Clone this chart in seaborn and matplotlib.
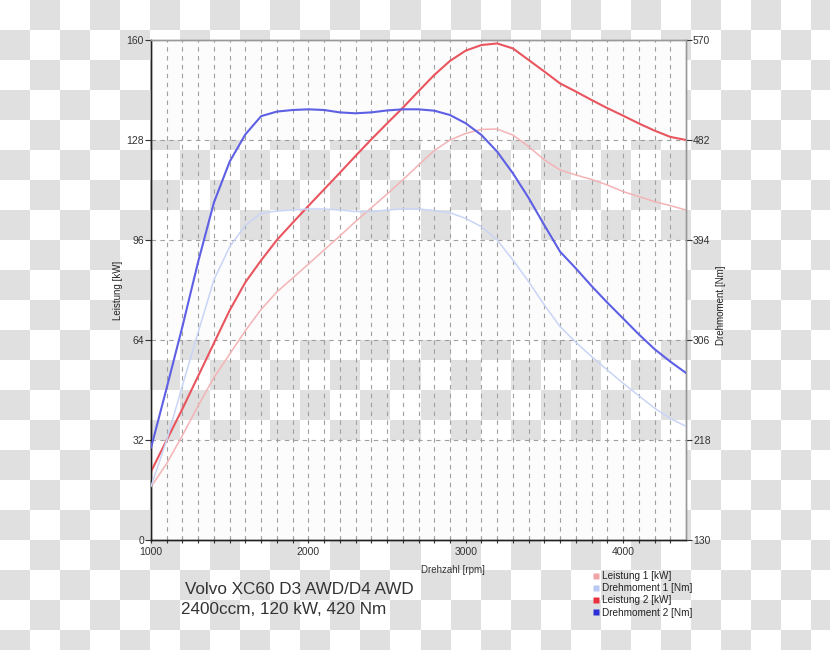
import numpy as np
import pandas as pd
import matplotlib
matplotlib.use("Agg")
import matplotlib.pyplot as plt
from matplotlib.lines import Line2D
import seaborn as sns

# ---- data ----
rpm = [1000, 1100, 1200, 1300, 1400, 1500, 1600, 1700, 1800, 1900, 2000, 2100, 2200,
       2300, 2400, 2500, 2600, 2700, 2800, 2900, 3000, 3100, 3200, 3300, 3400, 3500,
       3600, 3700, 3800, 3900, 4000, 4100, 4200, 4300, 4400]
leistung_1 = [17.0, 24.5, 33.5, 43.0, 52.0, 59.5, 67.0, 73.8, 79.4, 83.8, 88.3, 92.8, 97.3,
              101.9, 106.3, 110.7, 115.2, 120.0, 124.6, 128.0, 130.1, 131.4, 131.5, 129.6,
              125.9, 121.6, 118.4, 116.8, 115.4, 113.6, 111.5, 109.9, 108.3, 107.0, 105.6]
drehmoment_1 = [177, 218, 266, 313, 359, 388, 407, 417.5, 419.5, 420.4, 421.3, 421.3, 420.4,
                419, 419, 420.4, 421.3, 421.3, 420, 418, 413, 405.7, 394, 376.4, 357.3, 336.8,
                317.7, 304, 291.4, 279.6, 268, 257, 246, 237, 230]
leistung_2 = [21.9, 32.0, 42.0, 52.5, 63.0, 73.5, 82.5, 89.5, 96.0, 101.5, 106.9, 112.2,
              117.5, 122.9, 128.2, 133.3, 138.3, 143.6, 148.8, 153.3, 156.6, 158.4, 158.9,
              157.3, 153.6, 149.9, 146.1, 143.5, 140.8, 138.2, 135.8, 133.3, 131.0, 129.0, 128.0]
drehmoment_2 = [211, 264, 318, 375, 427, 463, 487, 503, 507, 508.4, 509, 508.4, 506.3,
                505.5, 506.3, 508, 509, 509, 507.8, 504, 496.7, 486.4, 471.7, 452.7, 431,
                407, 383.7, 369, 353.5, 338.9, 325, 311, 298, 287, 277]
left_ticks = [0, 32, 64, 96, 128, 160]
right_ticks = [130, 218, 306, 394, 482, 570]
x_ticks = [1000, 2000, 3000, 4000]
series_names = ["Leistung 1 [kW]", "Drehmoment 1 [Nm]", "Leistung 2 [kW]", "Drehmoment 2 [Nm]"]

line_colors = {"Leistung 1 [kW]": "#f4b3b5", "Drehmoment 1 [Nm]": "#c9d5f6",
               "Leistung 2 [kW]": "#e9555f", "Drehmoment 2 [Nm]": "#5d5fe4"}
marker_colors = {"Leistung 1 [kW]": "#f0a4a8", "Drehmoment 1 [Nm]": "#b9c9f4",
                 "Leistung 2 [kW]": "#e8303f", "Drehmoment 2 [Nm]": "#2c2fd6"}
line_widths = {"Leistung 1 [kW]": 1.1, "Drehmoment 1 [Nm]": 1.1,
               "Leistung 2 [kW]": 1.5, "Drehmoment 2 [Nm]": 1.5}

sns.set_theme(style="white")
plt.rcParams['font.family'] = ['Liberation Sans', 'DejaVu Sans']

W, H = 830, 650
fig = plt.figure(figsize=(W / 100, H / 100), dpi=100)

# checkerboard (transparency pattern) background
yy, xx = np.mgrid[0:H, 0:W]
checker = np.where(((xx // 30) + (yy // 30)) % 2 == 1, 0.878, 1.0)
bg = fig.add_axes([0, 0, 1, 1], zorder=-10)
bg.imshow(checker, cmap="gray", vmin=0, vmax=1, extent=[0, W, H, 0], aspect="auto",
          interpolation="nearest")
bg.set_axis_off()

left, right, top, bottom = 151, 686, 40, 540
ax = fig.add_axes([left / W, 1 - bottom / H, (right - left) / W, (bottom - top) / H])
ax.set_facecolor("none")
ax2 = ax.twinx()
ax2.set_facecolor("none")

# alternating white bands
for lo, hi in [(0, 32), (64, 96), (128, 160)]:
    ax.axhspan(lo, hi, color="#fcfcfc", zorder=0, lw=0)

# grid
for xv in range(1100, 4400, 100):
    ax.axvline(xv, color="#a0a0a0", lw=0.8, ls=(0, (4, 4)), zorder=1)
for yv in [32, 64, 96, 128]:
    ax.axhline(yv, color="#a0a0a0", lw=0.8, ls=(0, (4, 4)), zorder=1)

df_l = pd.DataFrame({"rpm": rpm, "Leistung 1 [kW]": leistung_1, "Leistung 2 [kW]": leistung_2})
df_d = pd.DataFrame({"rpm": rpm, "Drehmoment 1 [Nm]": drehmoment_1, "Drehmoment 2 [Nm]": drehmoment_2})

for name in ["Leistung 1 [kW]", "Leistung 2 [kW]"]:
    sns.lineplot(data=df_l, x="rpm", y=name, ax=ax, color=line_colors[name],
                 lw=line_widths[name], legend=False, zorder=3)
for name in ["Drehmoment 1 [Nm]", "Drehmoment 2 [Nm]"]:
    sns.lineplot(data=df_d, x="rpm", y=name, ax=ax2, color=line_colors[name],
                 lw=line_widths[name], legend=False, zorder=3)

ax.set_xlim(1000, 4400)
ax.set_ylim(0, 160)
ax2.set_ylim(130, 570)
ax.set_xticks(x_ticks)
ax.set_xticks(range(1100, 4400, 100), minor=True)
ax.set_yticks(left_ticks)
ax2.set_yticks(right_ticks)

tick_kw = dict(labelsize=7.5, labelcolor="#333333", colors="#333333", length=4, width=0.8)
ax.tick_params(axis="y", which="major", direction="out", pad=1, **tick_kw)
ax.tick_params(axis="x", which="major", direction="inout", pad=3, **tick_kw)
ax.tick_params(axis="x", which="minor", direction="inout", length=4, width=0.8, colors="#333333")
ax2.tick_params(axis="y", which="major", direction="out", pad=1, **tick_kw)
ax.tick_params(left=True, bottom=True)
ax.tick_params(axis="x", which="minor", bottom=True)
ax2.tick_params(right=True)

ax.set_xlabel("")
ax.set_ylabel("")
ax2.set_ylabel("")

for a in (ax, ax2):
    a.spines["left"].set_color("#222222")
    a.spines["bottom"].set_color("#222222")
    a.spines["right"].set_color("#999999")
    a.spines["top"].set_color("#999999")
    for s in a.spines.values():
        s.set_linewidth(1.0)
        s.set_visible(True)

fig.text(118 / W, 1 - 290 / H, "Leistung [kW]", rotation=90, ha="center", va="center",
         fontsize=7, color="#222222")
fig.text(721 / W, 1 - 305 / H, "Drehmoment [Nm]", rotation=90, ha="center", va="center",
         fontsize=7, color="#222222")
fig.text(453 / W, 1 - 570 / H, "Drehzahl [rpm]", ha="center", va="center",
         fontsize=7, color="#333333")

fig.text(185 / W, 1 - 590 / H, "Volvo XC60 D3 AWD/D4 AWD", ha="left", va="center",
         fontsize=12.3, color="#333333")
fig.text(181 / W, 1 - 609 / H, "2400ccm, 120 kW, 420 Nm", ha="left", va="center",
         fontsize=12.3, color="#333333")

handles = [Line2D([], [], ls="none", marker="s", ms=5, mec="none",
                  mfc=marker_colors[n], label=n) for n in series_names]
fig.legend(handles=handles, loc="upper left", bbox_to_anchor=(593 / W, 1 - 571 / H),
           frameon=False, fontsize=7.2, handlelength=0.6, handletextpad=0.3,
           labelspacing=0.22, borderpad=0, borderaxespad=0, labelcolor="#222222")

fig.savefig("out.png", dpi=100)
